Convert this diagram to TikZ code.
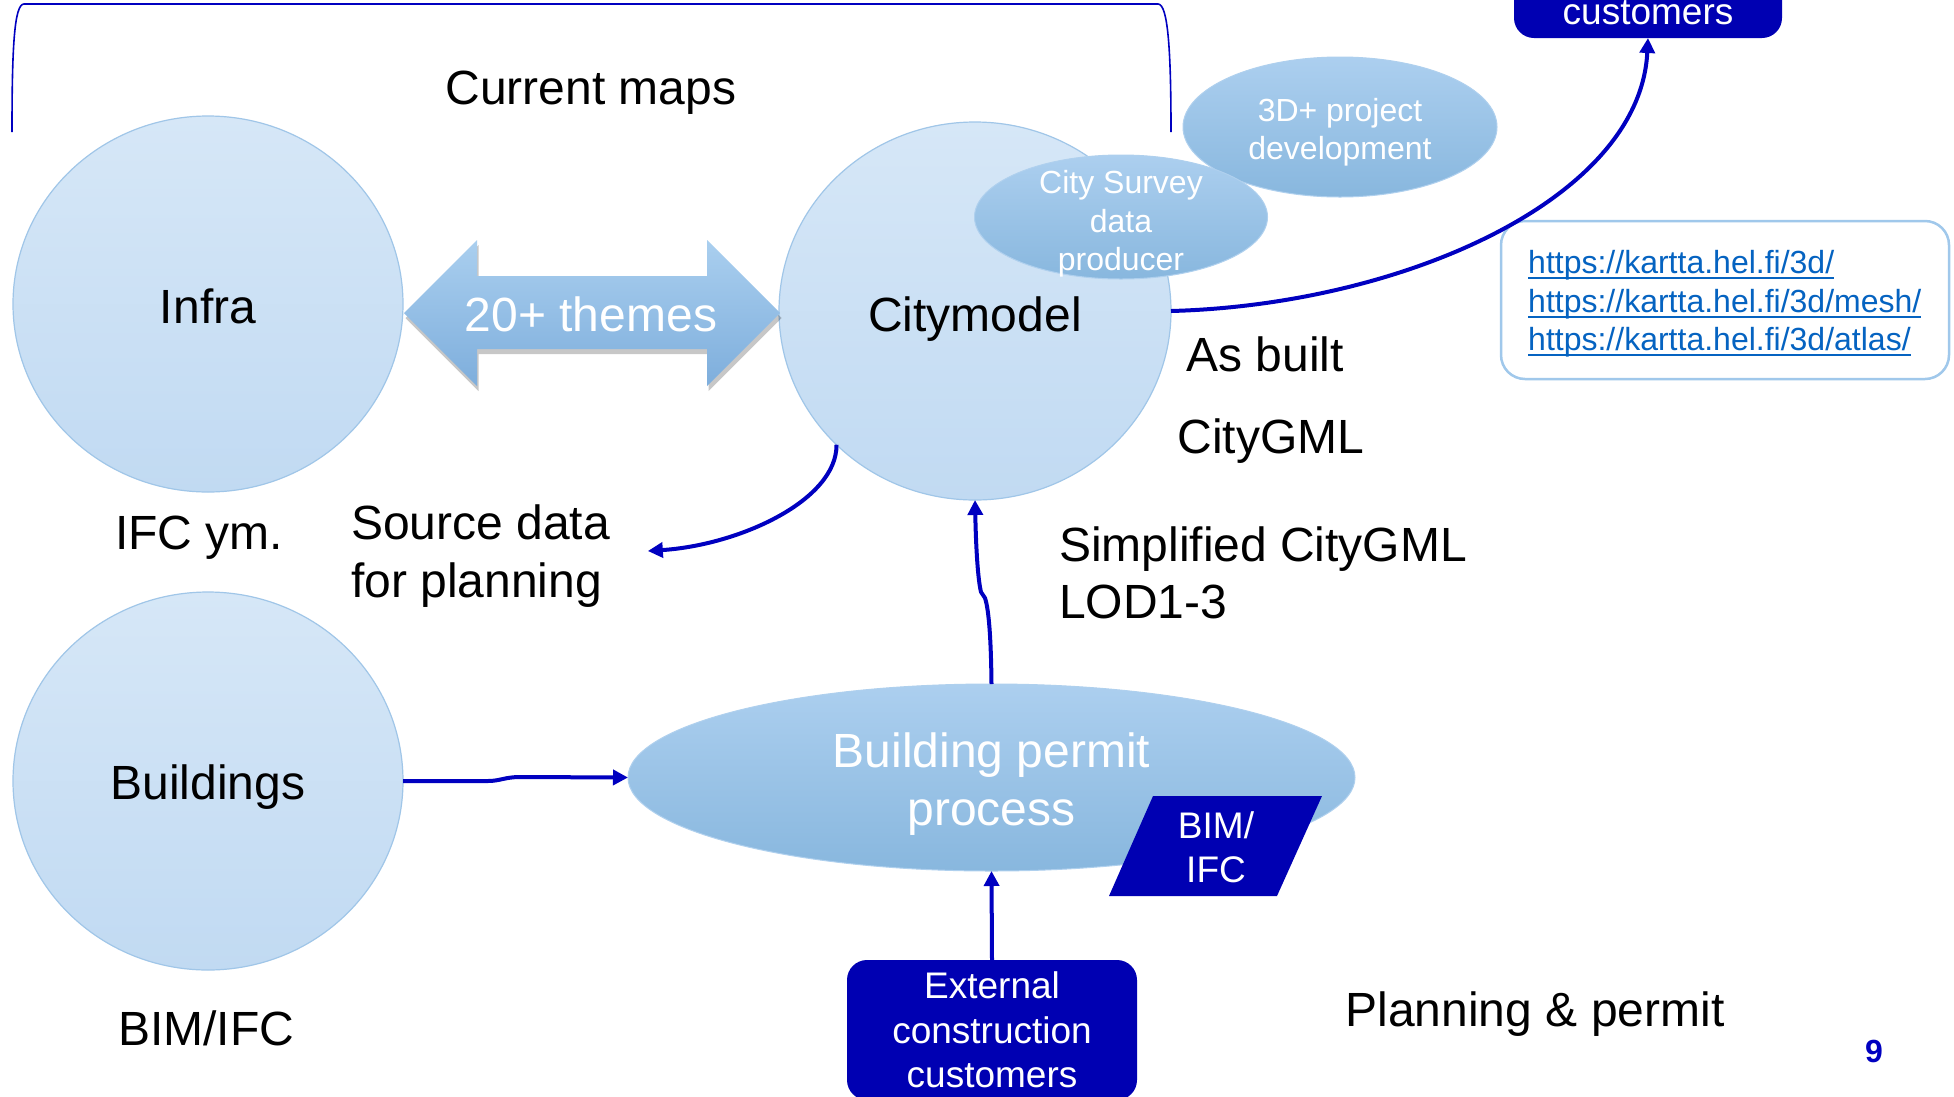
\documentclass[tikz,border=0pt]{standalone}
\usepackage{fontspec}
\setmainfont{Liberation Sans}
\usetikzlibrary{shapes.geometric,arrows.meta,shadows}
\definecolor{circTop}{RGB}{214,231,247}
\definecolor{circBot}{RGB}{193,218,242}
\definecolor{circLine}{RGB}{160,198,232}
\definecolor{ellTop}{RGB}{172,207,239}
\definecolor{ellBot}{RGB}{136,183,222}
\definecolor{ellLine}{RGB}{175,208,238}
\definecolor{arrTop}{RGB}{170,207,239}
\definecolor{arrBot}{RGB}{126,174,220}
\definecolor{dkblue}{RGB}{0,0,178}
\definecolor{lineblue}{RGB}{0,0,192}
\definecolor{urlblue}{RGB}{5,99,193}
\definecolor{urlLine}{RGB}{160,200,235}
\newcommand\fBig{\fontsize{48}{57.6}\selectfont}
\newcommand\fMid{\fontsize{37}{44.4}\selectfont}
\newcommand\fSmall{\fontsize{32}{38.4}\selectfont}
\newcommand\ulink[1]{\setbox0=\hbox{#1}\rlap{\rule[-5.5pt]{\wd0}{2.2pt}}\box0}
\tikzset{
  circ/.style={ellipse, inner sep=0pt, outer sep=0pt, draw=circLine, line width=1.2pt,
    top color=circTop, bottom color=circBot},
  ell/.style={ellipse, inner sep=0pt, outer sep=0pt, draw=ellLine, line width=1pt,
    top color=ellTop, bottom color=ellBot},
  wtxt/.style={inner sep=0pt, outer sep=0pt, text=white, align=center},
  conn/.style={draw=lineblue, line width=4pt, -{Triangle[length=15pt,width=15pt]}},
  dbox/.style={rectangle, rounded corners=20pt, fill=dkblue, text=white, align=center,
    inner sep=0pt, outer sep=0pt, font=\fMid},
  lbl/.style={inner sep=0pt, outer sep=0pt, text=black, font=\fBig, align=left},
}
\begin{document}
\begin{tikzpicture}[x=1pt,y=-1pt]
\useasboundingbox (0,0) rectangle (1954,1096);
\fill[white] (0,0) rectangle (1954,1096);
\clip (0,0) rectangle (1954,1096);

% bracket over current maps
\draw[lineblue, line width=1.6pt] (12,132) .. controls (12,50) and (14,4) .. (24,4)
  -- (1158,4) .. controls (1168,4) and (1171,50) .. (1171,132);
\node[lbl] (cur) at (591,93) {Current maps};

% circles
\node[circ, minimum width=390pt, minimum height=376pt] (infra) at (208,304) {};
\node[lbl] (infratxt) at (208,306) {Infra};
\node[circ, minimum width=392pt, minimum height=378pt] (city) at (975,311) {};
\node[lbl] (citytxt) at (975,319) {Citymodel};
\node[circ, minimum width=390pt, minimum height=378pt] (bldg) at (208,781) {};
\node[lbl] (bldgtxt) at (208,787) {Buildings};

% small ellipses
\node[ell, minimum width=314pt, minimum height=140pt] (proj) at (1340,127) {};
\node[wtxt, font=\fSmall] (projtxt) at (1340,132) {3D+ project\\development};
\node[ell, minimum width=293pt, minimum height=124pt] (survey) at (1121,217) {};
\node[wtxt, font=\fSmall] (surveytxt) at (1121,224) {City Survey\\data\\producer};

% double arrow
\path[top color=arrTop, bottom color=arrBot,
      drop shadow={shadow xshift=1.5pt, shadow yshift=-5pt, opacity=0.22, fill=black}]
  (404,313) -- (477,240) -- (477,276) -- (707,276) -- (707,240) -- (780,313)
  -- (707,386) -- (707,349) -- (477,349) -- (477,386) -- cycle;
\node[wtxt, font=\fBig] (themes) at (591,314) {20+ themes};

% building permit
\node[ell, minimum width=727pt, minimum height=187pt] (permit) at (991.5,777.5) {};
\node[wtxt, font=\fBig] (permittxt) at (991.5,784) {Building permit\\process};
\fill[dkblue] (1153,796) -- (1322,796) -- (1277,896) -- (1109,896) -- cycle;
\node[wtxt, font=\fMid] (bimifc) at (1216,847) {BIM/\\IFC};

% external box
\node[dbox, minimum width=290pt, minimum height=140pt] (ext) at (992,1030) {External\\construction\\customers};

% customers box (top)
\node[dbox, minimum width=268pt, minimum height=120pt, anchor=south] (cust) at (1648,38) {};
\node[wtxt, font=\fMid] (custtxt) at (1648,13) {customers};

% URL box
\node[draw=urlLine, line width=2.5pt, rounded corners=24pt, minimum width=448pt, minimum height=158pt,
      inner sep=0pt] (urlbox) at (1725,300) {};
\node[inner sep=0pt, anchor=west, text=urlblue, font=\fSmall, align=left] (urls) at (1528,304)
  {\ulink{https://kartta.hel.fi/3d/}\\\ulink{https://kartta.hel.fi/3d/mesh/}\\\ulink{https://kartta.hel.fi/3d/atlas/}};

% labels
\node[lbl] (asbuilt) at (1265,354) {As built};
\node[lbl] (citygml) at (1271,441) {CityGML};
\node[lbl] (ifcym) at (199,538) {IFC ym.};
\node[lbl, anchor=west] (src) at (351,556) {Source data\\for planning};
\node[lbl, anchor=west] (simpl) at (1059,573) {Simplified CityGML\\LOD1-3};
\node[lbl] (bimifc2) at (206,1028) {BIM/IFC};
\node[lbl] (plan) at (1535,1014) {Planning \& permit};
\node[inner sep=0pt, text=lineblue, font=\fontsize{32}{38}\selectfont\bfseries] (pnum) at (1874,1051) {9};

% connectors
\draw[conn] (city.east) .. controls (1400,305) and (1640,200) .. (cust.south);
\draw[conn] (city.-136) .. controls (837,500) and (740,545) .. ([xshift=38pt,yshift=5pt]src.east);
\draw[conn] (permit.north) .. controls (991,640) and (989,610) .. (985,598) -- (981,592)
  .. controls (978,580) and (976,550) .. (city.south);
\draw[conn] (bldg.east) -- (488,781) .. controls (500,781) and (505,777) .. (520,777) -- (permit.west);
\draw[conn] (ext.north) -- (permit.south);
\end{tikzpicture}
\end{document}
